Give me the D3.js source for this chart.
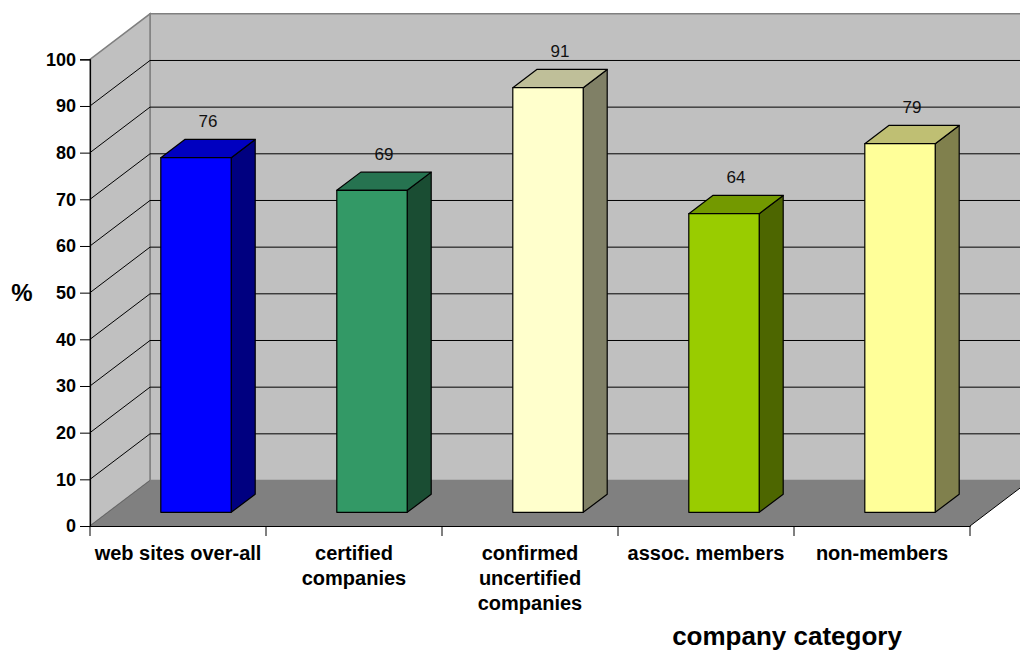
<!DOCTYPE html>
<html><head><meta charset="utf-8">
<script src="https://cdn.jsdelivr.net/npm/d3@7"></script>
<style>body{margin:0;background:#fff}svg{display:block}text{font-family:"Liberation Sans",Arial,sans-serif}</style>
</head><body><div id="chart"></div>
<script>
const categories = ["web sites over-all","certified companies","confirmed uncertified companies","assoc. members","non-members"];
const categoryLines = [["web sites over-all"],["certified","companies"],["confirmed","uncertified","companies"],["assoc. members"],["non-members"]];
const values = [76,69,91,64,79];
const yTicks = [0,10,20,30,40,50,60,70,80,90,100];
const frontColors = ["#0000FF","#339966","#FFFFCC","#99CC00","#FFFF99"];
const topColors = ["#0000C0","#267350","#BFBF99","#739900","#BFBF73"];
const sideColors = ["#000080","#1A4D33","#808066","#4D6600","#80804D"];

const W=1020,H=651;
const DX=60, DY=-45.5;          // full depth offset
const F1=0.3, F2=0.7;           // bar front/back depth fractions
const svg=d3.select("#chart").append("svg").attr("width",W).attr("height",H);

const x=d3.scaleBand().domain(categories).range([90,970]).paddingInner(0.6).paddingOuter(0.3);
const xc=d3.scaleBand().domain(categories).range([90,970]).padding(0);
const y=d3.scaleLinear().domain([0,100]).range([526,59.3]);

const pts=a=>a.map(p=>p.join(",")).join(" ");
const x0=90,x1=970,yb=y(0),yt=y(100);

// back wall
svg.append("polygon").attr("points",pts([[x0+DX,yb+DY],[x1+DX,yb+DY],[x1+DX,yt+DY],[x0+DX,yt+DY]]))
  .attr("fill","#C0C0C0").attr("stroke","#808080").attr("stroke-width",1.5);
// side wall
svg.append("polygon").attr("points",pts([[x0,yb],[x0,yt],[x0+DX,yt+DY],[x0+DX,yb+DY]]))
  .attr("fill","#C0C0C0").attr("stroke","#808080").attr("stroke-width",1.5);
// floor
svg.append("polygon").attr("points",pts([[x0,yb],[x1,yb],[x1+DX,yb+DY],[x0+DX,yb+DY]]))
  .attr("fill","#808080").attr("stroke","none");
svg.append("line").attr("x1",x1).attr("y1",yb).attr("x2",x1+DX).attr("y2",yb+DY).attr("stroke","#000").attr("stroke-width",1);
svg.append("line").attr("x1",x0).attr("y1",yb).attr("x2",x0+DX).attr("y2",yb+DY).attr("stroke","#666").attr("stroke-width",1);

// gridlines
const g=svg.append("g");
yTicks.filter(v=>v>0&&v<100).forEach(v=>{
  g.append("line").attr("x1",x0+DX).attr("x2",x1+DX).attr("y1",y(v)+DY).attr("y2",y(v)+DY).attr("stroke","#000").attr("stroke-width",1);
  g.append("line").attr("x1",x0).attr("x2",x0+DX).attr("y1",y(v)).attr("y2",y(v)+DY).attr("stroke","#000").attr("stroke-width",1);
});

// y axis
const yAxis=d3.axisLeft(y).tickValues(yTicks).tickSize(10).tickPadding(4).tickFormat(d3.format("d"));
const ya=svg.append("g").attr("transform",`translate(${x0},0)`).call(yAxis);
ya.select(".domain").attr("stroke","#000").attr("stroke-width",1.2);
ya.selectAll(".tick line").attr("stroke","#000");
ya.selectAll("text").attr("font-size",18).attr("font-weight","bold").attr("fill","#000").attr("font-family","Liberation Sans, Arial, sans-serif");

// x axis
const xAxis=d3.axisBottom(xc).tickSize(0).tickFormat("");
const xa=svg.append("g").attr("transform",`translate(0,${yb})`).call(xAxis);
xa.select(".domain").attr("stroke","#000").attr("stroke-width",1.2);
const bounds=categories.map(c=>xc(c)).concat([x1]);
xa.selectAll(".sep").data(bounds).enter().append("line").attr("class","sep")
  .attr("x1",d=>d).attr("x2",d=>d).attr("y1",0).attr("y2",10).attr("stroke","#000");

// bars
const bars=svg.append("g");
categories.forEach((c,i)=>{
  const v=values[i];
  const bx=x(c), bw=x.bandwidth();
  const fx=bx+DX*F1, fy0=yb+DY*F1, fyt=y(v)+DY*F1;
  const ddx=DX*(F2-F1), ddy=DY*(F2-F1);
  const gb=bars.append("g").attr("stroke","#000").attr("stroke-width",1.2).attr("stroke-linejoin","round");
  gb.append("polygon").attr("points",pts([[fx+bw,fy0],[fx+bw+ddx,fy0+ddy],[fx+bw+ddx,fyt+ddy],[fx+bw,fyt]])).attr("fill",sideColors[i]);
  gb.append("polygon").attr("points",pts([[fx,fyt],[fx+bw,fyt],[fx+bw+ddx,fyt+ddy],[fx+ddx,fyt+ddy]])).attr("fill",topColors[i]);
  gb.append("rect").attr("x",fx).attr("y",fyt).attr("width",bw).attr("height",fy0-fyt).attr("fill",frontColors[i]);
  svg.append("text").attr("x",bx+bw/2+DX*0.5).attr("y",fyt+ddy-12).attr("text-anchor","middle")
    .attr("font-size",17).attr("fill","#111").text(v);
});

// category labels
categories.forEach((c,i)=>{
  const t=svg.append("text").attr("x",xc(c)+xc.bandwidth()/2).attr("y",560).attr("text-anchor","middle")
    .attr("font-size",20).attr("font-weight","bold").attr("fill","#000");
  categoryLines[i].forEach((l,j)=>t.append("tspan").attr("x",xc(c)+xc.bandwidth()/2).attr("y",560+j*25).text(l));
});

// axis titles
svg.append("text").attr("x",787).attr("y",645).attr("text-anchor","middle").attr("font-size",26).attr("font-weight","bold").text("company category");
svg.append("text").attr("x",22).attr("y",301).attr("text-anchor","middle").attr("font-size",24).attr("font-weight","bold").text("%");
</script></body></html>
